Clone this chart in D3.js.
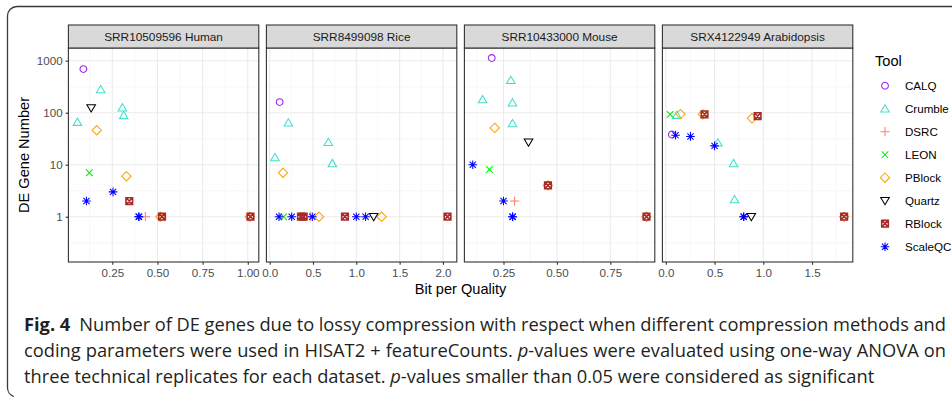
<!DOCTYPE html>
<html>
<head>
<meta charset="utf-8">
<script src="https://cdnjs.cloudflare.com/ajax/libs/d3/7.8.5/d3.min.js"></script>
<style>
  body { margin: 0; background: #fff; }
  svg { display: block; }
</style>
</head>
<body>
<div id="chart"></div>
<script>
const width = 952,
  height = 403;

const datasets = ["SRR10509596 Human", "SRR8499098 Rice", "SRR10433000 Mouse", "SRX4122949 Arabidopsis"];
const tools = ["CALQ", "Crumble", "DSRC", "LEON", "PBlock", "Quartz", "RBlock", "ScaleQC"];
const toolColors = ["#A020F0", "#40E0D0", "#FA8072", "#00EE00", "#FFA500", "#000000", "#A52A2A", "#0000FF"];

// [tool, bit per quality, DE gene number]
const human = [
  ["CALQ", 0.09, 690],
  ["Crumble", 0.057, 66], ["Crumble", 0.186, 280], ["Crumble", 0.306, 125], ["Crumble", 0.313, 89],
  ["DSRC", 0.433, 1],
  ["LEON", 0.123, 7],
  ["PBlock", 0.164, 46], ["PBlock", 0.328, 6], ["PBlock", 0.516, 1], ["PBlock", 1.011, 1],
  ["Quartz", 0.133, 123],
  ["RBlock", 0.344, 2], ["RBlock", 0.525, 1], ["RBlock", 1.015, 1],
  ["ScaleQC", 0.107, 2], ["ScaleQC", 0.254, 3], ["ScaleQC", 0.396, 1], ["ScaleQC", 0.398, 1]
];
const rice = [
  ["CALQ", 0.115, 160],
  ["Crumble", 0.061, 13.8], ["Crumble", 0.215, 64], ["Crumble", 0.677, 27], ["Crumble", 0.723, 10.6],
  ["DSRC", 0.469, 1],
  ["LEON", 0.161, 1],
  ["PBlock", 0.154, 7], ["PBlock", 0.569, 1], ["PBlock", 1.292, 1],
  ["Quartz", 1.2, 1],
  ["RBlock", 0.361, 1], ["RBlock", 0.392, 1], ["RBlock", 0.869, 1], ["RBlock", 2.053, 1],
  ["ScaleQC", 0.108, 1], ["ScaleQC", 0.254, 1], ["ScaleQC", 0.492, 1], ["ScaleQC", 1.0, 1], ["ScaleQC", 1.107, 1]
];
const mouse = [
  ["CALQ", 0.195, 1124],
  ["Crumble", 0.152, 180], ["Crumble", 0.284, 420], ["Crumble", 0.292, 156], ["Crumble", 0.292, 62],
  ["DSRC", 0.302, 2],
  ["LEON", 0.184, 8.1],
  ["PBlock", 0.209, 51], ["PBlock", 0.458, 4], ["PBlock", 0.919, 1],
  ["Quartz", 0.367, 27],
  ["RBlock", 0.458, 4], ["RBlock", 0.919, 1],
  ["ScaleQC", 0.106, 10], ["ScaleQC", 0.25, 2], ["ScaleQC", 0.292, 1], ["ScaleQC", 0.293, 1]
];
const arabidopsis = [
  ["CALQ", 0.062, 38],
  ["Crumble", 0.113, 90], ["Crumble", 0.534, 26.5], ["Crumble", 0.695, 10.6], ["Crumble", 0.705, 2.15],
  ["LEON", 0.044, 93],
  ["PBlock", 0.15, 94], ["PBlock", 0.38, 93], ["PBlock", 0.884, 78], ["PBlock", 1.829, 1],
  ["Quartz", 0.877, 1],
  ["RBlock", 0.397, 93], ["RBlock", 0.942, 86], ["RBlock", 1.829, 1],
  ["ScaleQC", 0.1, 37], ["ScaleQC", 0.253, 35], ["ScaleQC", 0.5, 23], ["ScaleQC", 0.798, 1], ["ScaleQC", 0.8, 1]
];
const panelData = [human, rice, mouse, arabidopsis];

const xDomains = [[0.007, 1.061], [-0.038, 2.16], [0.067, 0.958], [-0.035, 1.918]];
const xTicks = [[0.25, 0.5, 0.75, 1.0], [0, 0.5, 1, 1.5, 2], [0.25, 0.5, 0.75], [0, 0.5, 1, 1.5]];
const xTickFormats = [".2f", ".1f", ".2f", ".1f"];
const yTicks = [1, 10, 100, 1000];
const yDomain = [0.1346, 1754];

const captionLines = [
  [["Fig. 4", "bold"], ["  Number of DE genes due to lossy compression with respect when different compression methods and", ""]],
  [["coding parameters were used in HISAT2 + featureCounts. ", ""], ["p", "italic"], ["-values were evaluated using one-way ANOVA on", ""]],
  [["three technical replicates for each dataset. ", ""], ["p", "italic"], ["-values smaller than 0.05 were considered as significant", ""]]
];
// lines 1 and 2 are justified to the right edge, the last one is not
const captionJustify = [922, 922, 0];

const panelLeft = 68.4,
  panelStep = 198,
  panelW = 190.4,
  stripTop = 25,
  panelTop = 48,
  panelBottom = 262;

const font = "'Liberation Sans', Arial, Helvetica, sans-serif";

const svg = d3
  .select("#chart")
  .append("svg")
  .attr("width", width)
  .attr("height", height);

// outer frame of the figure box
svg
  .append("path")
  .attr("d", "M952,6.5H17A9.5,9.5 0 0 0 7.5,16V387A9.5,9.5 0 0 0 14,396.5")
  .attr("fill", "none")
  .attr("stroke", "#3a3a3a")
  .attr("stroke-width", 1.3);

// marker glyphs like ggplot shapes
const markerPath = (tool) => {
  const p = d3.path();
  if (tool === "CALQ") {
    p.moveTo(3.4, 0);
    p.arc(0, 0, 3.4, 0, 2 * Math.PI);
  } else if (tool === "Crumble") {
    p.moveTo(0, -4);
    p.lineTo(4.3, 3.3);
    p.lineTo(-4.3, 3.3);
    p.closePath();
  } else if (tool === "Quartz") {
    p.moveTo(0, 4);
    p.lineTo(4.3, -3.3);
    p.lineTo(-4.3, -3.3);
    p.closePath();
  } else if (tool === "DSRC") {
    p.moveTo(-4.6, 0);
    p.lineTo(4.6, 0);
    p.moveTo(0, -4.6);
    p.lineTo(0, 4.6);
  } else if (tool === "LEON") {
    p.moveTo(-3.3, -3.3);
    p.lineTo(3.3, 3.3);
    p.moveTo(-3.3, 3.3);
    p.lineTo(3.3, -3.3);
  } else if (tool === "PBlock") {
    p.moveTo(0, -4.7);
    p.lineTo(4.7, 0);
    p.lineTo(0, 4.7);
    p.lineTo(-4.7, 0);
    p.closePath();
  } else if (tool === "RBlock") {
    p.rect(-3.3, -3.3, 6.6, 6.6);
    p.moveTo(-3.3, -3.3);
    p.lineTo(3.3, 3.3);
    p.moveTo(-3.3, 3.3);
    p.lineTo(3.3, -3.3);
  } else {
    p.moveTo(-4.3, 0);
    p.lineTo(4.3, 0);
    p.moveTo(0, -4.3);
    p.lineTo(0, 4.3);
    p.moveTo(-3.1, -3.1);
    p.lineTo(3.1, 3.1);
    p.moveTo(-3.1, 3.1);
    p.lineTo(3.1, -3.1);
  }
  return p.toString();
};

const toolColor = (tool) => toolColors[tools.indexOf(tool)];

const yScale = d3.scaleLog().domain(yDomain).range([panelBottom, panelTop]);

// minor grid positions: half way between majors
const minorTicks = (ticks, domain) => {
  const step = ticks[1] - ticks[0];
  const out = [];
  for (let v = ticks[0] - step / 2; v <= domain[1]; v += step) {
    if (v >= domain[0]) out.push(v);
  }
  return out;
};
const yMinor = [-0.5, 0.5, 1.5, 2.5, 3.5].map((e) => Math.pow(10, e)).filter((v) => v > yDomain[0] && v < yDomain[1]);

datasets.forEach((name, i) => {
  const x0 = panelLeft + i * panelStep;
  const xScale = d3.scaleLinear().domain(xDomains[i]).range([x0, x0 + panelW]);
  const g = svg.append("g").attr("class", "panel");

  g.append("rect")
    .attr("x", x0)
    .attr("y", panelTop)
    .attr("width", panelW)
    .attr("height", panelBottom - panelTop)
    .attr("fill", "#fff");

  // grid
  const xMinor = minorTicks(xTicks[i], xDomains[i]);
  g.selectAll(".xminor")
    .data(xMinor)
    .enter()
    .append("line")
    .attr("x1", (d) => xScale(d))
    .attr("x2", (d) => xScale(d))
    .attr("y1", panelTop)
    .attr("y2", panelBottom)
    .attr("stroke", "#f2f2f2")
    .attr("stroke-width", 0.6);
  g.selectAll(".yminor")
    .data(yMinor)
    .enter()
    .append("line")
    .attr("x1", x0)
    .attr("x2", x0 + panelW)
    .attr("y1", (d) => yScale(d))
    .attr("y2", (d) => yScale(d))
    .attr("stroke", "#f2f2f2")
    .attr("stroke-width", 0.6);
  g.selectAll(".xmajor")
    .data(xTicks[i])
    .enter()
    .append("line")
    .attr("x1", (d) => xScale(d))
    .attr("x2", (d) => xScale(d))
    .attr("y1", panelTop)
    .attr("y2", panelBottom)
    .attr("stroke", "#ebebeb")
    .attr("stroke-width", 1.1);
  g.selectAll(".ymajor")
    .data(yTicks)
    .enter()
    .append("line")
    .attr("x1", x0)
    .attr("x2", x0 + panelW)
    .attr("y1", (d) => yScale(d))
    .attr("y2", (d) => yScale(d))
    .attr("stroke", "#ebebeb")
    .attr("stroke-width", 1.1);

  // points, drawn in tool order
  g.selectAll(".pt")
    .data(panelData[i])
    .enter()
    .append("path")
    .attr("class", "pt")
    .attr("transform", (d) => "translate(" + xScale(d[1]) + "," + yScale(d[2]) + ")")
    .attr("d", (d) => markerPath(d[0]))
    .attr("fill", "none")
    .attr("stroke", (d) => toolColor(d[0]))
    .attr("stroke-width", (d) => (d[0] === "RBlock" ? 1.6 : 1.05));

  // border
  g.append("rect")
    .attr("x", x0)
    .attr("y", panelTop)
    .attr("width", panelW)
    .attr("height", panelBottom - panelTop)
    .attr("fill", "none")
    .attr("stroke", "#333")
    .attr("stroke-width", 1.1);

  // strip
  g.append("rect")
    .attr("x", x0)
    .attr("y", stripTop)
    .attr("width", panelW)
    .attr("height", panelTop - stripTop)
    .attr("fill", "#d9d9d9")
    .attr("stroke", "#333")
    .attr("stroke-width", 1.1);
  g.append("text")
    .attr("x", x0 + panelW / 2)
    .attr("y", (stripTop + panelTop) / 2)
    .attr("dy", "0.36em")
    .attr("text-anchor", "middle")
    .style("font-family", font)
    .style("font-size", "11.8px")
    .style("fill", "#1a1a1a")
    .text(name);

  // x axis
  const xAxis = d3
    .axisBottom(xScale)
    .tickValues(xTicks[i])
    .tickFormat(d3.format(xTickFormats[i]))
    .tickSize(2.75)
    .tickPadding(4.3);
  const xg = g.append("g").attr("transform", "translate(0," + panelBottom + ")").call(xAxis);
  xg.select(".domain").remove();
  xg.selectAll("line").attr("stroke", "#333").attr("stroke-width", 1.1);
  xg.selectAll("text").style("font-family", font).style("font-size", "11.6px").style("fill", "#4d4d4d");

  if (i === 0) {
    const yAxis = d3
      .axisLeft(yScale)
      .tickValues(yTicks)
      .tickFormat(d3.format("d"))
      .tickSize(2.75)
      .tickPadding(3);
    const yg = g.append("g").attr("transform", "translate(" + x0 + ",0)").call(yAxis);
    yg.select(".domain").remove();
    yg.selectAll("line").attr("stroke", "#333").attr("stroke-width", 1.1);
    yg.selectAll("text").style("font-family", font).style("font-size", "11.6px").style("fill", "#4d4d4d");
  }
});

// axis titles
svg
  .append("text")
  .attr("transform", "translate(29," + (panelTop + panelBottom) / 2 + ") rotate(-90)")
  .attr("text-anchor", "middle")
  .style("font-family", font)
  .style("font-size", "14.6px")
  .text("DE Gene Number");

svg
  .append("text")
  .attr("x", (panelLeft + panelLeft + 3 * panelStep + panelW) / 2)
  .attr("y", 294)
  .attr("text-anchor", "middle")
  .style("font-family", font)
  .style("font-size", "14.6px")
  .text("Bit per Quality");

// legend
const legend = svg.append("g").attr("id", "legend");
legend
  .append("text")
  .attr("x", 875)
  .attr("y", 66)
  .style("font-family", font)
  .style("font-size", "14.6px")
  .text("Tool");

const entries = legend
  .selectAll(".entry")
  .data(tools)
  .enter()
  .append("g")
  .attr("class", "entry")
  .attr("transform", (d, i) => "translate(885," + (85.7 + i * 23) + ")");
entries
  .append("path")
  .attr("d", (d) => markerPath(d))
  .attr("fill", "none")
  .attr("stroke", (d) => toolColor(d))
  .attr("stroke-width", (d) => (d === "RBlock" ? 1.6 : 1.05));
entries
  .append("text")
  .attr("x", 20)
  .attr("dy", "0.36em")
  .style("font-family", font)
  .style("font-size", "11.6px")
  .style("fill", "#000")
  .text((d) => d);

// caption, justified with word spacing
const captionBase = [331, 357, 383];
captionLines.forEach((parts, i) => {
  const t = svg
    .append("text")
    .attr("x", 24)
    .attr("y", captionBase[i])
    .attr("xml:space", "preserve")
    .style("font-family", "'Open Sans', 'Noto Sans', sans-serif")
    .style("font-size", "18.3px")
    .style("fill", "#231f20");
  parts.forEach((p) => {
    t.append("tspan")
      .style("font-weight", p[1] === "bold" ? "bold" : "normal")
      .style("font-style", p[1] === "italic" ? "italic" : "normal")
      .text(p[0]);
  });
  if (captionJustify[i]) {
    const natural = t.node().getComputedTextLength();
    const gaps = parts.map((p) => p[0]).join("").split(" ").length - 1;
    t.style("word-spacing", (captionJustify[i] - natural) / gaps + "px");
  }
});
</script>
</body>
</html>
